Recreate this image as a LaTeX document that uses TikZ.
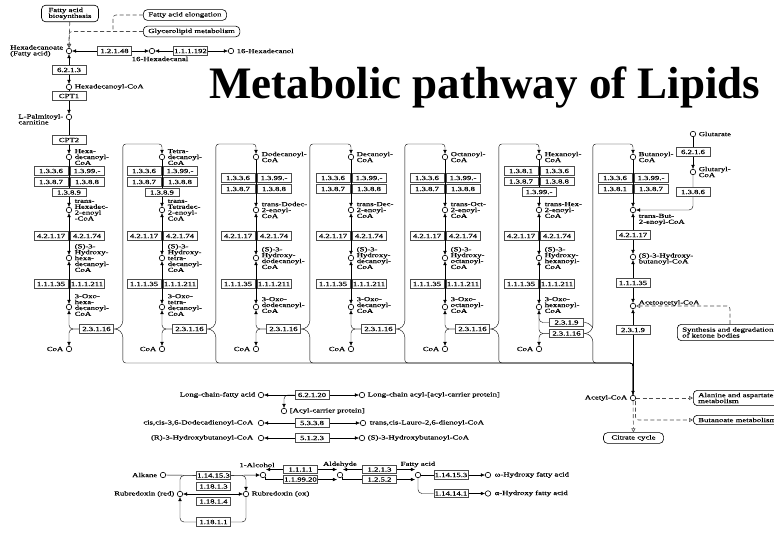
\documentclass[tikz,border=0pt]{standalone}
\usepackage{fontspec}
\setmainfont{Liberation Serif}
\newfontfamily\keggfont[FakeStretch=1.4,FakeBold=0.4]{Liberation Serif}
\usetikzlibrary{arrows.meta,backgrounds}
\definecolor{KeggGray}{gray}{0.25}
\def\KeggLine{KeggGray}
\newcommand\keggsize{\keggfont\fontsize{6.2pt}{5.9pt}\selectfont}

\begin{document}
\begin{tikzpicture}
    [x=1pt,y=-1pt,
     >={Latex[length=4pt,width=3.6pt]},
     cpd/.style={circle,draw=black,fill=white,line width=0.6pt,inner sep=0pt,minimum size=5.5pt},
     enz/.style={rectangle,draw=black!70,fill=white,line width=0.6pt,inner sep=0.5pt,minimum width=34pt,minimum height=8.5pt,font=\keggsize},
     lbl/.style={inner sep=0.5pt,align=left,font=\keggsize},
     mapbox/.style={rectangle,rounded corners=4pt,draw=black,fill=white,line width=0.6pt,inner xsep=5pt,inner ysep=2.5pt,align=left,font=\keggsize},
     maplink/.style={draw=black!70,line width=0.6pt,dash pattern=on 4pt off 2.5pt,-{Triangle[open,length=4pt,width=4pt]}},
    ]
    \useasboundingbox (0,0) rectangle (774,536);
    \node[font=\bfseries\fontsize{45pt}{50pt}\selectfont,anchor=base west,inner sep=0pt] (title) at (209,98) {Metabolic pathway of Lipids};

    % maps and the hexadecanoate row
    \node[mapbox,inner xsep=7pt] (fab) at (70,13.5) {Fatty acid\\biosynthesis};
    \node[mapbox,anchor=west] (elong) at (143,15) {Fatty acid elongation};
    \node[mapbox,anchor=west] (glyc) at (143,31.5) {Glycerolipid metabolism};
    \node[cpd] (hexa) at (69,51) {};
    \node[lbl,anchor=east] (hexal) at ([xshift=-2pt]hexa.west) {Hexadecanoate\\(Fatty acid)};
    \node[enz] (e1248) at (114.5,51) {1.2.1.48};
    \node[cpd] (hal) at (152,51) {};
    \node[lbl,anchor=north] (hall) at ([xshift=8pt,yshift=-2pt]hal.south) {16-Hexadecanal};
    \node[enz] (e111192) at (190.5,51) {1.1.1.192};
    \node[cpd] (hol) at (231,51) {};
    \node[lbl,anchor=west] (holl) at ([xshift=2pt]hol.east) {16-Hexadecanol};
    \node[enz] (e6213) at (69,70) {6.2.1.3};
    \node[cpd] (hcoa) at (69,87) {};
    \node[lbl,anchor=west] (hcoal) at ([xshift=2pt]hcoa.east) {Hexadecanoyl-CoA};
    \node[enz] (cpt1) at (69,96) {CPT1};
    \node[cpd] (palm) at (69,117) {};
    \node[lbl,anchor=north east] (palml) at ([xshift=-2pt,yshift=3.5pt]palm.west) {L-Palmitoyl-\\carnitine};
    \node[enz] (cpt2) at (69,140) {CPT2};

    % beta-oxidation rounds
    \foreach \n/\x/\ty/\labA/\labE/\labH/\labO in {
      16/69/329/{Hexa-\\decanoyl-\\CoA}/{trans-\\Hexadec-\\2-enoyl\\-CoA}/{(S)-3-\\Hydroxy-\\hexa-\\decanoyl-\\CoA}/{3-Oxo-\\hexa-\\decanoyl-\\CoA},
      14/162/329/{Tetra-\\decanoyl-\\CoA}/{trans-\\Tetradec-\\2-enoyl-\\CoA}/{(S)-3-\\Hydroxy-\\tetra-\\decanoyl-\\CoA}/{3-Oxo-\\tetra-\\decanoyl-\\CoA},
      12/256/329/{Dodecanoyl-\\CoA}/{trans-Dodec-\\2-enoyl-\\CoA}/{(S)-3-\\Hydroxy-\\dodecanoyl-\\CoA}/{3-Oxo-\\dodecanoyl-\\CoA},
      10/351/329/{Decanoyl-\\CoA}/{trans-Dec-\\2-enoyl-\\CoA}/{(S)-3-\\Hydroxy-\\decanoyl-\\CoA}/{3-Oxo-\\decanoyl-\\CoA},
      8/445/329/{Octanoyl-\\CoA}/{trans-Oct-\\2-enoyl-\\CoA}/{(S)-3-\\Hydroxy-\\octanoyl-\\CoA}/{3-Oxo-\\octanoyl-\\CoA},
      6/539/333.5/{Hexanoyl-\\CoA}/{trans-Hex-\\2-enoyl-\\CoA}/{(S)-3-\\Hydroxy-\\hexanoyl-\\CoA}/{3-Oxo-\\hexanoyl-\\CoA}}{
      \node[cpd] (a\n) at (\x,157) {};
      \node[lbl,anchor=west] (la\n) at ([xshift=2pt]a\n.east) {\labA};
      \node[cpd] (e\n) at (\x,210) {};
      \node[lbl,anchor=west] (le\n) at ([xshift=2pt]e\n.east) {\labE};
      \node[enz] (hy\n) at (\x-18,236) {4.2.1.17};
      \node[enz] (hz\n) at (\x+18,236) {4.2.1.74};
      \node[cpd] (h\n) at (\x,258) {};
      \node[lbl,anchor=west] (lh\n) at ([xshift=2pt]h\n.east) {\labH};
      \node[enz] (dh\n) at (\x-18,284) {1.1.1.35};
      \node[enz] (di\n) at (\x+18,284) {1.1.1.211};
      \node[cpd] (o\n) at (\x,307) {};
      \node[lbl,anchor=west] (lo\n) at ([xshift=2pt,yshift=2pt]o\n.east) {\labO};
      \node[enz] (t\n) at (\x+27.5,\ty) {2.3.1.16};
      \node[cpd] (c\n) at (\x,349) {};
      \node[lbl,anchor=east] (lc\n) at ([xshift=-2pt]c\n.west) {CoA};
      \coordinate (top\n) at (\x,144);
    }
    \foreach \n/\x in {16/69,14/162}{
      \node[enz] (ox\n) at (\x-18,171) {1.3.3.6};
      \node[enz] (dy\n) at (\x+18,171) {1.3.99.-};
      \node[enz] (dm\n) at (\x-18,182) {1.3.8.7};
      \node[enz] (dv\n) at (\x+18,182) {1.3.8.8};
      \node[enz] (dl\n) at (\x,192.5) {1.3.8.9};
    }
    \foreach \n/\x in {12/256,10/351,8/445}{
      \node[enz] (ox\n) at (\x-18,178) {1.3.3.6};
      \node[enz] (dy\n) at (\x+18,178) {1.3.99.-};
      \node[enz] (dm\n) at (\x-18,189) {1.3.8.7};
      \node[enz] (dv\n) at (\x+18,189) {1.3.8.8};
    }
    \node[enz] (ds6) at (521,171) {1.3.8.1};
    \node[enz] (ox6) at (557,171) {1.3.3.6};
    \node[enz] (dm6) at (521,181.5) {1.3.8.7};
    \node[enz] (dv6) at (557,181.5) {1.3.8.8};
    \node[enz] (dy6) at (539,192) {1.3.99.-};
    \node[enz] (k6) at (566.5,322.5) {2.3.1.9};

    % butanoyl-CoA to acetyl-CoA
    \node[cpd] (a4) at (633,157) {};
    \node[lbl,anchor=west] (la4) at ([xshift=2pt]a4.east) {Butanoyl-\\CoA};
    \node[enz] (ox4) at (615,178) {1.3.3.6};
    \node[enz] (dy4) at (651,178) {1.3.99.-};
    \node[enz] (ds4) at (615,189) {1.3.8.1};
    \node[enz] (dm4) at (651,189) {1.3.8.7};
    \node[cpd] (e4) at (633,210) {};
    \node[lbl,anchor=north west] (le4) at ([xshift=3pt,yshift=-1pt]e4.south east) {trans-But-\\2-enoyl-CoA};
    \node[enz] (hy4) at (633,235) {4.2.1.17};
    \node[cpd] (h4) at (633,257) {};
    \node[lbl,anchor=west] (lh4) at ([xshift=2pt,yshift=-2pt]h4.east) {(S)-3-Hydroxy-\\butanoyl-CoA};
    \node[enz] (dh4) at (633,283) {1.1.1.35};
    \node[cpd] (k4) at (633,306) {};
    \node[lbl,anchor=west] (lk4) at ([xshift=2pt,yshift=3pt]k4.east) {Acetoacetyl-CoA};
    \node[enz] (t4) at (633,330) {2.3.1.9};
    \node[cpd] (acoa) at (633,398) {};
    \node[lbl,anchor=east] (lacoa) at ([xshift=-2pt]acoa.west) {Acetyl-CoA};
    \coordinate (top4) at (633,144);
    \coordinate (bot) at (633,363);
    \node[cpd] (glt) at (693,134) {};
    \node[lbl,anchor=west] (lglt) at ([xshift=2pt]glt.east) {Glutarate};
    \node[enz] (e6216) at (693,152) {6.2.1.6};
    \node[cpd] (gcoa) at (693,172) {};
    \node[lbl,anchor=west] (lgcoa) at ([xshift=2pt]gcoa.east) {Glutaryl-\\CoA};
    \node[enz] (e1386) at (693,192) {1.3.8.6};
    \node[mapbox,anchor=west,inner ysep=3pt] (keto) at (677,332.5) {Synthesis and degradation\\of ketone bodies};
    \node[mapbox,anchor=west] (ala) at (693,398) {Alanine and aspartate\\metabolism};
    \node[mapbox,anchor=west] (buta) at (693,420) {Butanoate metabolism};
    \node[mapbox,inner xsep=8pt] (tca) at (633.5,438) {Citrate cycle};

    % single reactions
    \node[cpd] (lcfa) at (261,395) {};
    \node[lbl,anchor=east] (llcfa) at ([xshift=-2pt]lcfa.west) {Long-chain-fatty acid};
    \node[enz] (e62120) at (312,395) {6.2.1.20};
    \node[cpd] (lcacp) at (362,395) {};
    \node[lbl,anchor=west] (llcacp) at ([xshift=2pt]lcacp.east) {Long-chain acyl-[acyl-carrier protein]};
    \node[cpd] (acp) at (284,411) {};
    \node[lbl,anchor=west] (lacp) at ([xshift=2pt]acp.east) {[Acyl-carrier protein]};
    \node[cpd] (ccd) at (261,423) {};
    \node[lbl,anchor=east] (lccd) at ([xshift=-4pt]ccd.west) {cis,cis-3,6-Dodecadienoyl-CoA};
    \node[enz] (e5338) at (312,423) {5.3.3.8};
    \node[cpd] (tcl) at (363,423) {};
    \node[lbl,anchor=west] (ltcl) at ([xshift=3pt]tcl.east) {trans,cis-Lauro-2,6-dienoyl-CoA};
    \node[cpd] (rhb) at (261,438) {};
    \node[lbl,anchor=east] (lrhb) at ([xshift=-4pt]rhb.west) {(R)-3-Hydroxybutanoyl-CoA};
    \node[enz] (e5123) at (312,438) {5.1.2.3};
    \node[cpd] (shb) at (362,438) {};
    \node[lbl,anchor=west] (lshb) at ([xshift=2pt]shb.east) {(S)-3-Hydroxybutanoyl-CoA};

    % alkane oxidation
    \node[cpd] (alk) at (163,475) {};
    \node[lbl,anchor=east] (lalk) at ([xshift=-2pt]alk.west) {Alkane};
    \node[enz] (e1141531) at (213.5,475.5) {1.14.15.3};
    \node[enz] (e11813) at (213.5,486.5) {1.18.1.3};
    \node[enz] (e11814) at (213.5,501.5) {1.18.1.4};
    \node[enz] (e11811) at (213.5,522) {1.18.1.1};
    \node[cpd] (rdr) at (180,494) {};
    \node[lbl,anchor=east] (lrdr) at ([xshift=-2pt]rdr.west) {Rubredoxin (red)};
    \node[cpd] (rdo) at (246,494) {};
    \node[lbl,anchor=west] (lrdo) at ([xshift=2pt]rdo.east) {Rubredoxin (ox)};
    \node[cpd] (alc) at (263,475) {};
    \node[lbl,anchor=south] (lalc) at ([xshift=-6pt,yshift=4pt]alc.north) {1-Alcohol};
    \node[enz] (e1111) at (300.5,469.5) {1.1.1.1};
    \node[enz] (e119920) at (300.5,479.5) {1.1.99.20};
    \node[cpd] (ald) at (340,475) {};
    \node[lbl,anchor=south] (lald) at ([yshift=4pt]ald.north) {Aldehyde};
    \node[enz] (e1213) at (379.5,469.5) {1.2.1.3};
    \node[enz] (e1252) at (379.5,479.5) {1.2.5.2};
    \node[cpd] (fa) at (418,475) {};
    \node[lbl,anchor=south] (lfa) at ([yshift=4pt]fa.north) {Fatty acid};
    \node[enz] (e1141532) at (451,475) {1.14.15.3};
    \node[cpd] (ohfa) at (488,475) {};
    \node[lbl,anchor=west] (lohfa) at ([xshift=3pt]ohfa.east) {ω-Hydroxy fatty acid};
    \node[enz] (e114141) at (451,493.5) {1.14.14.1};
    \node[cpd] (ahfa) at (488,493.5) {};
    \node[lbl,anchor=west] (lahfa) at ([xshift=3pt]ahfa.east) {α-Hydroxy fatty acid};

    \begin{scope}[on background layer,color=\KeggLine,line width=0.6pt]
      \draw[maplink] (fab) -- (hexa);
      \draw[maplink,rounded corners=3pt] (glyc) -| (hexa);
      \draw[maplink,-,rounded corners=3pt] (elong) -| ([xshift=-30pt]glyc.west);
      \draw[<-] (hexa) -- (e1248);
      \draw[->] (e1248) -- (hal);
      \draw[<-] (hal) -- (e111192);
      \draw[->] (e111192) -- (hol);
      \draw[<->] (hexa) -- (hcoa);
      \draw[->] (hcoa) -- (palm);
      \draw[->] (palm) -- (a16);
      \foreach \n in {16,14,12,10,8,6}{
        \draw[->] (a\n) -- (e\n);
        \draw[<->] (e\n) -- (h\n);
        \draw[<->] (h\n) -- (o\n);
        \draw[<-,rounded corners=4pt] (o\n) |- (t\n.west);
        \draw[->,rounded corners=4pt] (t\n.west) -| (c\n);
      }
      \foreach \n/\m in {16/14,14/12,12/10,10/8,8/6,6/4}{
        \draw[->,rounded corners=3pt] (t\n.east) -- ++(4,0) -- ++(5,-5) |- (top\m) -- (a\m);
        \draw[rounded corners=3pt] (t\n.east) -- ++(4,0) -- ++(5,5) |- (bot) -- (acoa);
      }
      \draw[rounded corners=4pt] (o6) |- (k6.west);
      \draw[rounded corners=3pt] (k6.east) -- ++(4,0) -- ++(5,5);
      \draw[->] (a4) -- (e4);
      \draw[<->] (e4) -- (h4);
      \draw[<->] (h4) -- (k4);
      \draw[<->] (k4) -- (acoa);
      \draw[->] (glt) -- (gcoa);
      \draw[->,rounded corners=4pt] (gcoa) |- (e4);
      \draw[maplink,rounded corners=3pt] ([xshift=53pt]keto.north west) |- (k4);
      \draw[maplink] (acoa) -- (ala);
      \draw[maplink,rounded corners=3pt] ([xshift=2.5pt]acoa.south) |- (buta);
      \draw[maplink] (acoa) -- (tca);
      \draw[<-] (lcfa) -- (e62120);
      \draw[->] (e62120) -- (lcacp);
      \draw[->,rounded corners=4pt] (e62120.west) -| (acp);
      \draw[<-] (ccd) -- (e5338);
      \draw[->] (e5338) -- (tcl);
      \draw[<-] (rhb) -- (e5123);
      \draw[->] (e5123) -- (shb);
      \draw (alk) -- (e1141531);
      \draw[->] (e1141531) -- (alc);
      \draw[->,rounded corners=4pt] (e1141531.east) -| (rdo);
      \draw[rounded corners=4pt] (rdr) |- (e1141531.west);
      \draw[<->] (rdr) -- (rdo);
      \draw[rounded corners=4pt] (rdo) |- (e11811.east);
      \draw[->,rounded corners=4pt] (e11811.west) -| (rdr);
      \draw[<-] (e1111.west -| alc.east) -- (e1111.west);
      \draw[->] (e1111.east) -- (e1111.east -| ald.west);
      \draw (alc.south east) |- (e119920.west);
      \draw[->] (e119920.east) -- (e119920.east -| ald.west);
      \draw[<-] (e1213.west -| ald.east) -- (e1213.west);
      \draw[->] (e1213.east) -- (e1213.east -| fa.west);
      \draw (ald.south east) |- (e1252.west);
      \draw[->] (e1252.east) -- (e1252.east -| fa.west);
      \draw (fa) -- (e1141532);
      \draw[->] (e1141532) -- (ohfa);
      \draw[rounded corners=4pt] (fa) |- (e114141.west);
      \draw[->] (e114141) -- (ahfa);
    \end{scope}
\end{tikzpicture}
\end{document}
